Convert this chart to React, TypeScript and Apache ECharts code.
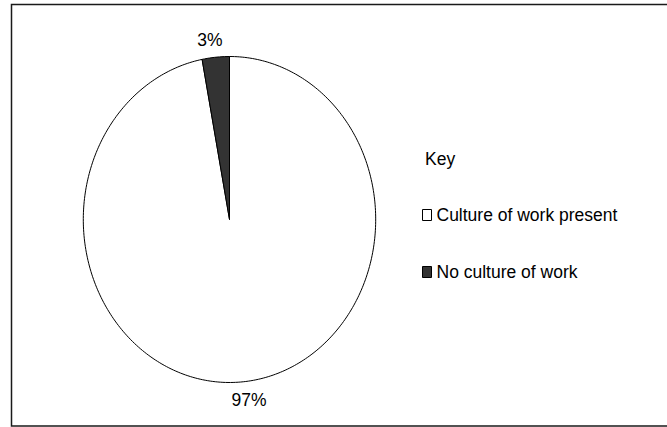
import React, { useEffect, useRef } from "react";
import * as echarts from "echarts";

const categories = ["Culture of work present", "No culture of work"];
const values = [97, 3];
const colors = ["#ffffff", "#333333"];
const keyTitle = "Key";

export default function App() {
  const ref = useRef<HTMLDivElement>(null);
  useEffect(() => {
    const chart = echarts.init(ref.current!, null, { renderer: "svg" });
    const cx = 229.5, cy = 219.5, rx = 146.2, ry = 163;
    const total = values.reduce((a, b) => a + b, 0);
    const font = "'Liberation Sans', Arial, sans-serif";
    const series = categories.map((name, i) => ({
      type: "custom",
      name,
      coordinateSystem: "none",
      itemStyle: { color: colors[i] },
      data: [[values[i]]],
      renderItem: (params: any, api: any) => {
        const v = api.value(0) as number;
        let start = 0;
        for (let j = 0; j < i; j++) start += values[j];
        const a0 = (start / total) * 2 * Math.PI;
        const a1 = ((start + v) / total) * 2 * Math.PI;
        const n = Math.max(2, Math.ceil((a1 - a0) / (Math.PI / 180)));
        const pts: number[][] = [[cx, cy]];
        for (let k = 0; k <= n; k++) {
          const a = a0 + ((a1 - a0) * k) / n;
          pts.push([cx + rx * Math.sin(a), cy - ry * Math.cos(a)]);
        }
        const am = (a0 + a1) / 2;
        const pct = Math.round((v / total) * 100) + "%";
        return {
          type: "group",
          children: [
            {
              type: "polygon",
              shape: { points: pts },
              style: { fill: colors[i], stroke: "#000", lineWidth: 1 },
            },
            {
              type: "text",
              x: cx + rx * 1.42 * Math.sin(am),
              y: cy - ry * 1.11 * Math.cos(am),
              scaleY: 1.1,
              style: {
                text: pct,
                fill: "#000",
                font: `17.5px ${font}`,
                align: "center",
                verticalAlign: "middle",
              },
            },
          ],
        };
      },
    }));
    chart.setOption({
      animation: false,
      backgroundColor: "#ffffff",
      title: {
        text: keyTitle,
        left: 425,
        top: 149,
        padding: 0,
        textStyle: { fontSize: 17.5, fontWeight: "normal", color: "#000", fontFamily: font, lineHeight: 20 },
      },
      legend: {
        orient: "vertical",
        left: 422,
        top: 205,
        padding: 0,
        itemWidth: 9,
        itemHeight: 11,
        itemGap: 37,
        icon: "rect",
        selectedMode: false,
        itemStyle: { borderColor: "#000", borderWidth: 1 },
        textStyle: { fontSize: 17.5, fontFamily: font, color: "#000", lineHeight: 20 },
        data: categories,
      },
      graphic: [
        {
          type: "rect",
          shape: { x: 11.5, y: 4.5, width: 700, height: 421.5 },
          style: { fill: "none", stroke: "#1a1a1a", lineWidth: 1.5 },
          z: -1,
        },
      ],
      series,
    } as any);
    return () => chart.dispose();
  }, []);
  return (
    <div
      ref={ref}
      style={{ position: "absolute", left: 0, top: 0, width: 667, height: 427 }}
    />
  );
}
